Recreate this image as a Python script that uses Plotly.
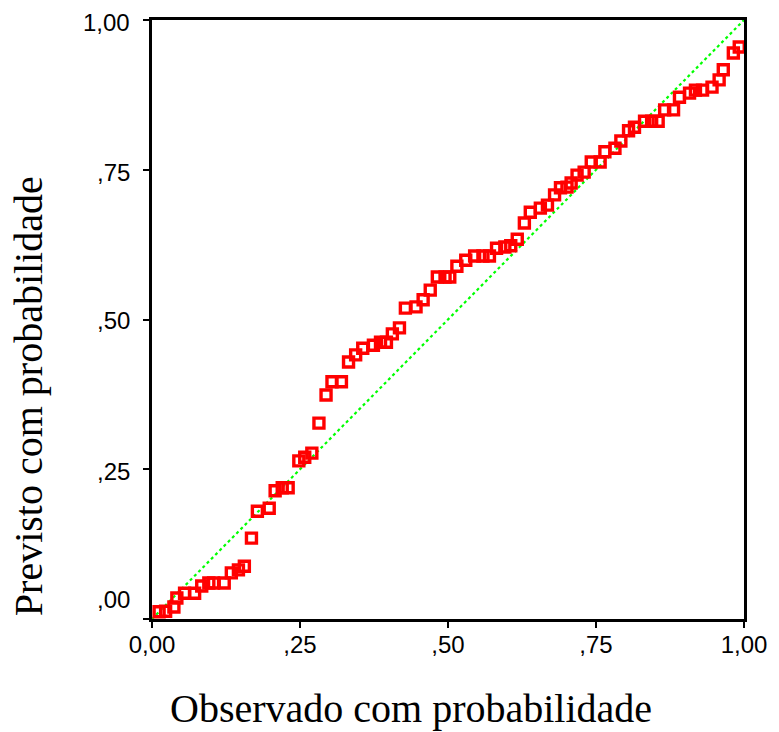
import plotly.graph_objects as go

# Observed vs. predicted cumulative probabilities (P-P plot)
observed = [
    0.012, 0.023, 0.037, 0.042, 0.055, 0.072, 0.084, 0.096, 0.104, 0.122,
    0.134, 0.146, 0.156, 0.168, 0.178, 0.198, 0.208, 0.220, 0.230, 0.248,
    0.258, 0.270, 0.282, 0.294, 0.304, 0.320, 0.332, 0.344, 0.356, 0.374,
    0.386, 0.396, 0.406, 0.418, 0.428, 0.446, 0.458, 0.470, 0.482, 0.495,
    0.503, 0.515, 0.530, 0.545, 0.559, 0.570, 0.582, 0.596, 0.606, 0.617,
    0.629, 0.639, 0.656, 0.668, 0.680, 0.690, 0.701, 0.708, 0.718, 0.730,
    0.742, 0.757, 0.765, 0.782, 0.792, 0.805, 0.815, 0.832, 0.844, 0.855,
    0.866, 0.881, 0.891, 0.908, 0.918, 0.930, 0.946, 0.958, 0.965, 0.982,
    0.992,
]
predicted = [
    0.012, 0.013, 0.020, 0.035, 0.043, 0.043, 0.055, 0.060, 0.060, 0.060,
    0.077, 0.082, 0.088, 0.135, 0.180, 0.185, 0.214, 0.219, 0.219, 0.264,
    0.270, 0.277, 0.327, 0.374, 0.396, 0.396, 0.429, 0.441, 0.452, 0.457,
    0.462, 0.462, 0.476, 0.486, 0.519, 0.521, 0.533, 0.549, 0.571, 0.571,
    0.571, 0.589, 0.599, 0.606, 0.606, 0.606, 0.619, 0.621, 0.623, 0.634,
    0.661, 0.679, 0.686, 0.691, 0.708, 0.720, 0.721, 0.728, 0.741, 0.746,
    0.763, 0.763, 0.780, 0.786, 0.798, 0.815, 0.821, 0.831, 0.831, 0.831,
    0.850, 0.850, 0.871, 0.878, 0.883, 0.883, 0.888, 0.900, 0.917, 0.945,
    0.955,
]

reference_line = [0.0, 1.0]

x_tick_values = [0.0, 0.25, 0.5, 0.75, 1.0]
x_tick_labels = ["0,00", ",25", ",50", ",75", "1,00"]
y_tick_values = [0.0, 0.25, 0.5, 0.75, 1.0]
y_tick_labels = [",00", ",25", ",50", ",75", "1,00"]
# label anchor positions on the y scale (the bottom one sits a little higher)
y_label_positions = [0.032, 0.246, 0.498, 0.746, 0.996]

x_title = "Observado com probabilidade"
y_title = "Previsto com probabilidade"

fig = go.Figure()

fig.add_trace(go.Scatter(
    x=reference_line, y=reference_line,
    mode="lines",
    line=dict(color="#00ff00", width=2.2, dash="dot"),
    hoverinfo="skip",
    showlegend=False,
))

fig.add_trace(go.Scatter(
    x=observed, y=predicted,
    mode="markers",
    marker=dict(symbol="square-open", size=10, color="#ff0000",
                line=dict(color="#ff0000", width=3.4)),
    cliponaxis=False,
    showlegend=False,
))

axis_common = dict(
    range=[0, 1],
    showgrid=False,
    zeroline=False,
    showline=True,
    linecolor="black",
    linewidth=3,
    mirror=True,
    ticks="outside",
    ticklen=6,
    tickwidth=2,
    tickcolor="black",
)

fig.update_xaxes(
    **axis_common,
    tickvals=x_tick_values,
    ticktext=x_tick_labels,
    tickfont=dict(family="Liberation Sans", size=24, color="black"),
    ticklabelstandoff=-4,
)
fig.update_yaxes(
    **axis_common,
    tickvals=y_tick_values,
    showticklabels=False,
)

annotations = []
for label, pos in zip(y_tick_labels, y_label_positions):
    annotations.append(dict(
        x=0, y=pos, xref="paper", yref="y",
        text=label, showarrow=False,
        xanchor="right", yanchor="middle", xshift=-20,
        font=dict(family="Liberation Sans", size=24, color="black"),
    ))

annotations.append(dict(
    x=0.438, y=0, xref="paper", yref="paper",
    text=x_title, showarrow=False,
    xanchor="center", yanchor="middle", yshift=-89,
    font=dict(family="Liberation Serif", size=40, color="black"),
))
annotations.append(dict(
    x=0, y=0.372, xref="paper", yref="paper",
    text=y_title, showarrow=False, textangle=-90,
    xanchor="center", yanchor="middle", xshift=-124,
    font=dict(family="Liberation Serif", size=40, color="black"),
))

fig.update_layout(
    width=779, height=732,
    margin=dict(l=152, r=31, t=20, b=113),
    paper_bgcolor="white",
    plot_bgcolor="white",
    annotations=annotations,
)

fig.write_html("out.html")
